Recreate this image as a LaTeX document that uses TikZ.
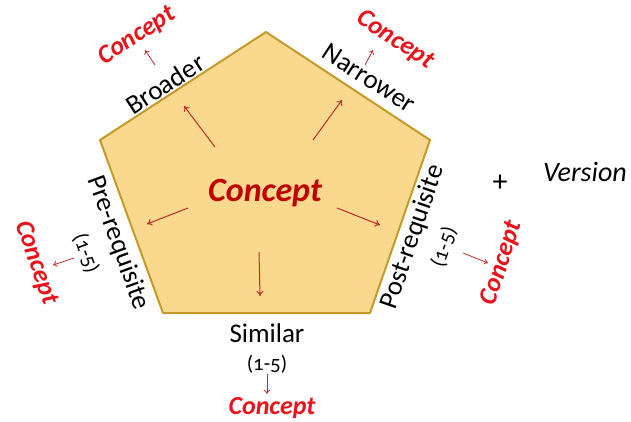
\documentclass[tikz,border=0pt]{standalone}
\usepackage{fontspec}
\setmainfont{Carlito}
\newfontfamily\oldnum[Numbers=OldStyle]{Carlito}
\usetikzlibrary{arrows.meta}
\definecolor{pentafill}{HTML}{FAD98E}
\definecolor{pentaedge}{HTML}{C49A2C}
\definecolor{linkred}{HTML}{E8131B}
\definecolor{corered}{HTML}{C00000}
\definecolor{arrowred}{HTML}{C0282A}

\begin{document}
\begin{tikzpicture}[
    x=1pt, y=-1pt,
    line join=round,
    relation/.style={font=\fontsize{27}{31}\selectfont, inner sep=0pt},
    rangetext/.style={font=\oldnum\fontsize{21}{25}\selectfont, inner sep=0pt},
    linked/.style={text=linkred, font=\fontsize{26}{30}\selectfont\bfseries\itshape, inner sep=0pt},
    inarrow/.style={arrowred, line width=1pt, -{To[length=5pt,width=7pt]}},
    outarrow/.style={arrowred, line width=0.8pt, -{To[length=4pt,width=6pt]}}
]
    \useasboundingbox (0,0) rectangle (631,421);

    % Pentagon
    \filldraw[fill=pentafill, draw=pentaedge, line width=2pt]
        (266,32) -- (430,140) -- (370,313) -- (163,313) -- (100,140) -- cycle;
    \node[text=corered, font=\fontsize{34}{40}\selectfont\bfseries\itshape] (core) at (265,193) {Concept};

    % Arrows from the centre to each side
    \coordinate (bA) at (215,147); \coordinate (bB) at (184,106);
    \coordinate (nA) at (313,140); \coordinate (nB) at (342,100);
    \coordinate (pA) at (188,208); \coordinate (pB) at (147,224);
    \coordinate (qA) at (337,208); \coordinate (qB) at (380,225);
    \coordinate (sA) at (259,252); \coordinate (sB) at (260,296);
    \draw[inarrow] (bA) -- (bB);
    \draw[inarrow] (nA) -- (nB);
    \draw[inarrow] (pA) -- (pB);
    \draw[inarrow] (qA) -- (qB);
    \draw[inarrow] (sA) -- (sB);

    % Broader (top left)
    \node[relation, rotate=33] (broader) at (165,84) {Broader};
    \node[linked, rotate=33] (broaderC) at (137,36) {Concept};
    \coordinate (bC) at (155,65); \coordinate (bD) at (145,50);
    \draw[outarrow] (bC) -- (bD);

    % Narrower (top right)
    \node[relation, rotate=-33] (narrower) at (369,78) {Narrower};
    \node[linked, rotate=-33] (narrowerC) at (395,40) {Concept};
    \coordinate (nC) at (365,65); \coordinate (nD) at (373,50);
    \draw[outarrow] (nC) -- (nD);

    % Pre-requisite (left)
    \node[relation, rotate=-70] (prereq) at (118,243) {Pre-requisite};
    \node[rangetext, rotate=-70] (prerange) at (86,253) {(1-5)};
    \node[linked, rotate=-71] (prereqC) at (36,263) {Concept};
    \coordinate (pC) at (74,258); \coordinate (pD) at (53,265);
    \draw[outarrow] (pC) -- (pD);

    % Post-requisite (right)
    \node[relation, rotate=71] (postreq) at (413,237) {Post-requisite};
    \node[rangetext, rotate=71] (postrange) at (444,247) {(1-5)};
    \node[linked, rotate=72] (postreqC) at (502,263) {Concept};
    \coordinate (qC) at (463,253); \coordinate (qD) at (488,263);
    \draw[outarrow] (qC) -- (qD);

    % Similar (bottom)
    \node[relation] (similar) at (267,333) {Similar};
    \node[rangetext] (simrange) at (267,364) {(1-5)};
    \node[linked] (similarC) at (272,408) {Concept};
    \coordinate (sC) at (267,374); \coordinate (sD) at (267,394);
    \draw[outarrow] (sC) -- (sD);

    % Version
    \node[font=\fontsize{30}{36}\selectfont] (plus) at (500,183) {+};
    \node[font=\fontsize{28}{34}\selectfont\itshape] (version) at (585,172) {Version};

\end{tikzpicture}
\end{document}
